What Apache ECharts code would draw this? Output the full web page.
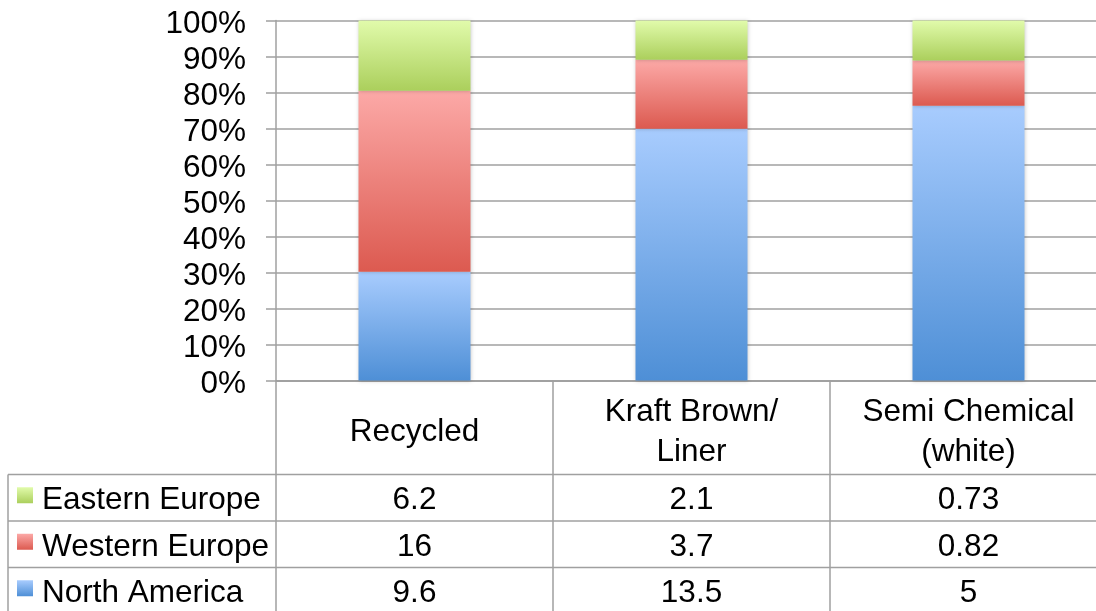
<!DOCTYPE html>
<html>
<head>
<meta charset="utf-8">
<script src="https://cdn.jsdelivr.net/npm/echarts@6/dist/echarts.min.js"></script>
<style>
html,body{margin:0;padding:0;background:#fff;}
#main{width:1096px;height:611px;}
</style>
</head>
<body>
<div id="main"></div>
<script>
// ---- data ----
var categories = ['Recycled', 'Kraft Brown/\nLiner', 'Semi Chemical\n(white)'];
var northAmerica = [9.6, 13.5, 5];
var westernEurope = [16, 3.7, 0.82];
var easternEurope = [6.2, 2.1, 0.73];
var seriesNames = ['Eastern Europe', 'Western Europe', 'North America'];
var yTicks = [0, 10, 20, 30, 40, 50, 60, 70, 80, 90, 100];

// ---- layout ----
var FONT = '"Liberation Sans", Arial, sans-serif';
var FS = 31.5;
var GRID_LEFT = 276, GRID_TOP = 20.5, PLOT_H = 360, GRID_W = 831;
var HEADER_H = 94, ROW_H = 46.5;
var LINE = '#a0a0a0';
var tableTop = GRID_TOP + PLOT_H;
var rowsTop = tableTop + HEADER_H;

function totals(i) { return northAmerica[i] + westernEurope[i] + easternEurope[i]; }
function pct(arr) { return arr.map(function (v, i) { return v / totals(i) * 100; }); }

function grad(top, bottom) {
  return new echarts.graphic.LinearGradient(0, 0, 0, 1, [
    { offset: 0, color: top }, { offset: 1, color: bottom }
  ]);
}
var colors = {
  'North America': ['#a8ccfe', '#4e8fd6'],
  'Western Europe': ['#fca9a7', '#dc5a50'],
  'Eastern Europe': ['#e1fbab', '#abcf5c']
};

var rowData = [easternEurope, westernEurope, northAmerica];

function barSeries(name, data) {
  return {
    name: name, type: 'bar', stack: 'total', barWidth: 112,
    data: pct(data),
    itemStyle: {
      color: grad(colors[name][0], colors[name][1]),
      shadowBlur: 4, shadowColor: 'rgba(0,0,0,0.22)'
    },
    emphasis: { disabled: true }
  };
}

var xAxes = [{
  type: 'category', data: categories, gridIndex: 0, position: 'bottom',
  axisLine: { show: true, lineStyle: { color: '#999', width: 1.5 } },
  axisTick: { show: true, length: 611 - tableTop, lineStyle: { color: LINE, width: 1.5 } },
  axisLabel: { fontFamily: FONT, fontSize: FS, color: '#000', margin: 52, verticalAlign: 'middle', lineHeight: 40, interval: 0 }
}];
rowData.forEach(function (arr, r) {
  xAxes.push({
    type: 'category', data: categories, gridIndex: 0, position: 'bottom',
    offset: HEADER_H + ROW_H * r + ROW_H / 2 + 3,
    axisLine: { show: false }, axisTick: { show: false }, splitLine: { show: false },
    axisLabel: {
      fontFamily: FONT, fontSize: FS, color: '#000', margin: 0, verticalAlign: 'middle', interval: 0,
      formatter: function (v, i) { return String(arr[i]); }
    }
  });
});

var graphics = [];
[0, 1, 2].forEach(function (r) {
  graphics.push({
    type: 'line', silent: true,
    shape: { x1: 8, y1: rowsTop + ROW_H * r, x2: GRID_LEFT + GRID_W, y2: rowsTop + ROW_H * r },
    style: { stroke: LINE, lineWidth: 1.5 }
  });
});
graphics.push({
  type: 'line', silent: true,
  shape: { x1: 8, y1: rowsTop, x2: 8, y2: 611 },
  style: { stroke: LINE, lineWidth: 1.5 }
});
seriesNames.forEach(function (name, r) {
  var cy = rowsTop + ROW_H * r + ROW_H / 2;
  graphics.push({
    type: 'rect', silent: true,
    shape: { x: 17, y: cy - 10.5, width: 16, height: 16 },
    style: { fill: grad(colors[name][0], colors[name][1]) }
  });
  graphics.push({
    type: 'text', silent: true, x: 42, y: cy + 3,
    style: { text: name, font: FS + 'px ' + FONT, fill: '#000', verticalAlign: 'middle', align: 'left' }
  });
});

var chart = echarts.init(document.getElementById('main'), null, { renderer: 'canvas' });
chart.setOption({
  animation: false,
  backgroundColor: '#fff',
  grid: { left: GRID_LEFT, top: GRID_TOP, width: GRID_W, height: PLOT_H, containLabel: false, outerBoundsMode: 'none' },
  xAxis: xAxes,
  yAxis: {
    type: 'value', min: yTicks[0], max: yTicks[yTicks.length - 1], interval: 10,
    axisLine: { show: true, lineStyle: { color: LINE, width: 1.5 } },
    axisTick: { show: true, length: 10, lineStyle: { color: LINE, width: 1.5 } },
    splitLine: { show: true, lineStyle: { color: LINE, width: 1.5 } },
    axisLabel: {
      margin: 30,
      formatter: function (v) { return '{p|' + v + '%}'; },
      rich: { p: { fontFamily: FONT, fontSize: FS, color: '#000', padding: [8, 0, 0, 0] } }
    }
  },
  series: [
    barSeries('North America', northAmerica),
    barSeries('Western Europe', westernEurope),
    barSeries('Eastern Europe', easternEurope)
  ],
  graphic: graphics
});
</script>
</body>
</html>
